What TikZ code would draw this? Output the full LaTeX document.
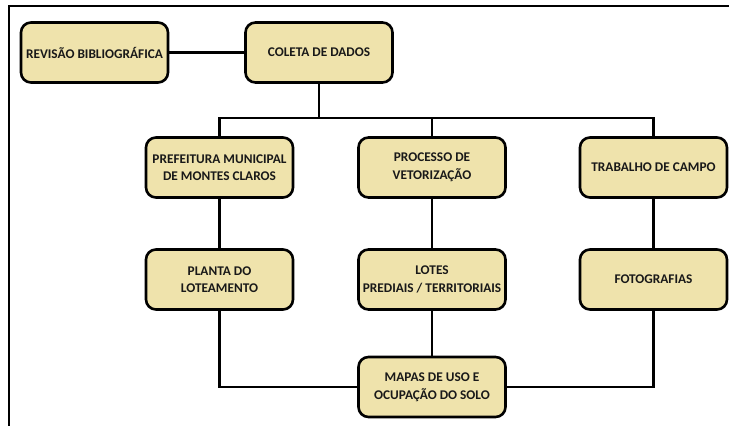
\documentclass[tikz,border=0pt]{standalone}
\usepackage{fontspec}
\setmainfont{Carlito}
\definecolor{boxfill}{RGB}{239,227,172}
\definecolor{txt}{RGB}{25,25,25}
\begin{document}
\begin{tikzpicture}[x=1pt,y=-1pt,
  box/.style={draw=black, line width=2.6pt, rounded corners=10pt, fill=boxfill,
    minimum width=147pt, minimum height=60pt, align=center, inner sep=2pt,
    text=txt, font=\fontsize{13.3}{17.6}\selectfont\bfseries},
  conn/.style={draw=black, line width=2.6pt}]
\useasboundingbox (0,0) rectangle (729,426);
\draw[line width=2pt] (9,426) -- (9,6) -- (729,6);
\node[box] (rev) at (94.5,52.5) {REVISÃO BIBLIOGRÁFICA};
\node[box] (col) at (319,52.5) {COLETA DE DADOS};
\node[box] (pref) at (219.5,167.5) {PREFEITURA MUNICIPAL\\DE MONTES CLAROS};
\node[box] (proc) at (432,167.5) {PROCESSO DE\\VETORIZAÇÃO};
\node[box] (trab) at (653.5,167.5) {TRABALHO DE CAMPO};
\node[box] (plan) at (219.5,279.5) {PLANTA DO\\LOTEAMENTO};
\node[box] (lot) at (432,279.5) {LOTES\\PREDIAIS / TERRITORIAIS};
\node[box] (foto) at (653.5,279.5) {FOTOGRAFIAS};
\node[box] (map) at (432,387) {MAPAS DE USO E\\OCUPAÇÃO DO SOLO};
\coordinate (b) at (319,118);
\draw[conn] (rev.east) -- (col.west);
\draw[conn] (col.south) -- (b);
\draw[conn] (pref.north) |- (b) -| (trab.north);
\draw[conn] (proc.north) -- (proc.north |- b);
\draw[conn] (pref.south) -- (plan.north);
\draw[conn] (proc.south) -- (lot.north);
\draw[conn] (trab.south) -- (foto.north);
\draw[conn] (plan.south) |- (map.west);
\draw[conn] (foto.south) |- (map.east);
\draw[conn] (lot.south) -- (map.north);
\end{tikzpicture}
\end{document}
